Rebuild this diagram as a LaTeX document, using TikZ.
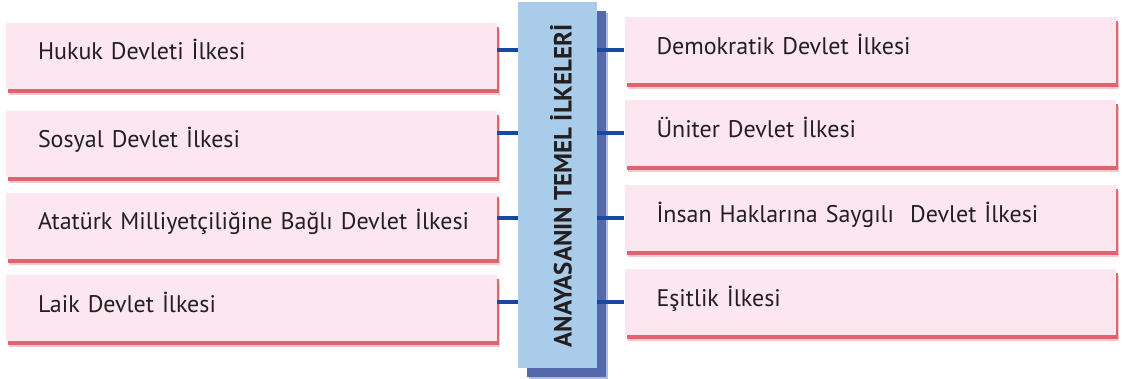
\documentclass[tikz,border=0pt]{standalone}
\usepackage{fontspec}
\setmainfont{PT Sans}
\usetikzlibrary{shadows}

\definecolor{ilkepink}{RGB}{252,230,239}
\definecolor{ilkeshadow}{RGB}{222,100,112}
\definecolor{anablue}{RGB}{170,204,235}
\definecolor{anashadow}{RGB}{84,104,172}
\definecolor{baglablue}{RGB}{24,72,160}
\definecolor{yazi}{RGB}{35,31,32}

\begin{document}
\begin{tikzpicture}[x=1pt,y=-1pt,
  ilke/.style={fill=ilkepink, minimum height=66pt, text width=427pt,
    inner xsep=32pt, align=left, text height=17pt, text depth=9pt,
    font=\fontsize{24}{28}\selectfont, text=yazi,
    drop shadow={shadow xshift=3pt, shadow yshift=-6pt, fill=ilkeshadow!35, opacity=1},
    drop shadow={shadow xshift=2pt, shadow yshift=-4pt, fill=ilkeshadow, opacity=1}},
  bag/.style={draw=baglablue, line width=4pt}]

% bounding box
\useasboundingbox (0,0) rectangle (1122,379);

% center box
\node[fill=anablue, minimum width=79pt, minimum height=366pt, inner sep=0pt,
  drop shadow={shadow xshift=11pt, shadow yshift=-11pt, fill=anashadow!45, opacity=1},
  drop shadow={shadow xshift=9pt, shadow yshift=-9pt, fill=anashadow, opacity=1}]
  (ana) at (557.5,185) {};
\node[rotate=90, font=\fontsize{25}{30}\selectfont\bfseries, text=yazi] (anayazi) at (561,186)
  {ANAYASANIN TEMEL İLKELERİ};

% left column
\node[ilke] (sol1) at (251.5,56) {Hukuk Devleti İlkesi};
\node[ilke] (sol2) at (251.5,144) {Sosyal Devlet İlkesi};
\node[ilke] (sol3) at (251.5,226) {\mbox{Atatürk Milliyetçiliğine Bağlı Devlet İlkesi}};
\node[ilke] (sol4) at (251.5,308.5) {Laik Devlet İlkesi};

% right column
\node[ilke] (sag1) at (870,50.5) {Demokratik Devlet İlkesi};
\node[ilke] (sag2) at (870,133.5) {Üniter Devlet İlkesi};
\node[ilke] (sag3) at (870,218.5) {İnsan Haklarına Saygılı~ Devlet İlkesi};
\node[ilke] (sag4) at (870,302.5) {Eşitlik İlkesi};

% connectors
\foreach \i in {1,...,4} {
  \draw[bag] (sol\i.east |- sag\i.west) -- (ana.west |- sag\i.west);
  \draw[bag] (ana.east |- sag\i.west) -- (sag\i.west);
}

\end{tikzpicture}
\end{document}
